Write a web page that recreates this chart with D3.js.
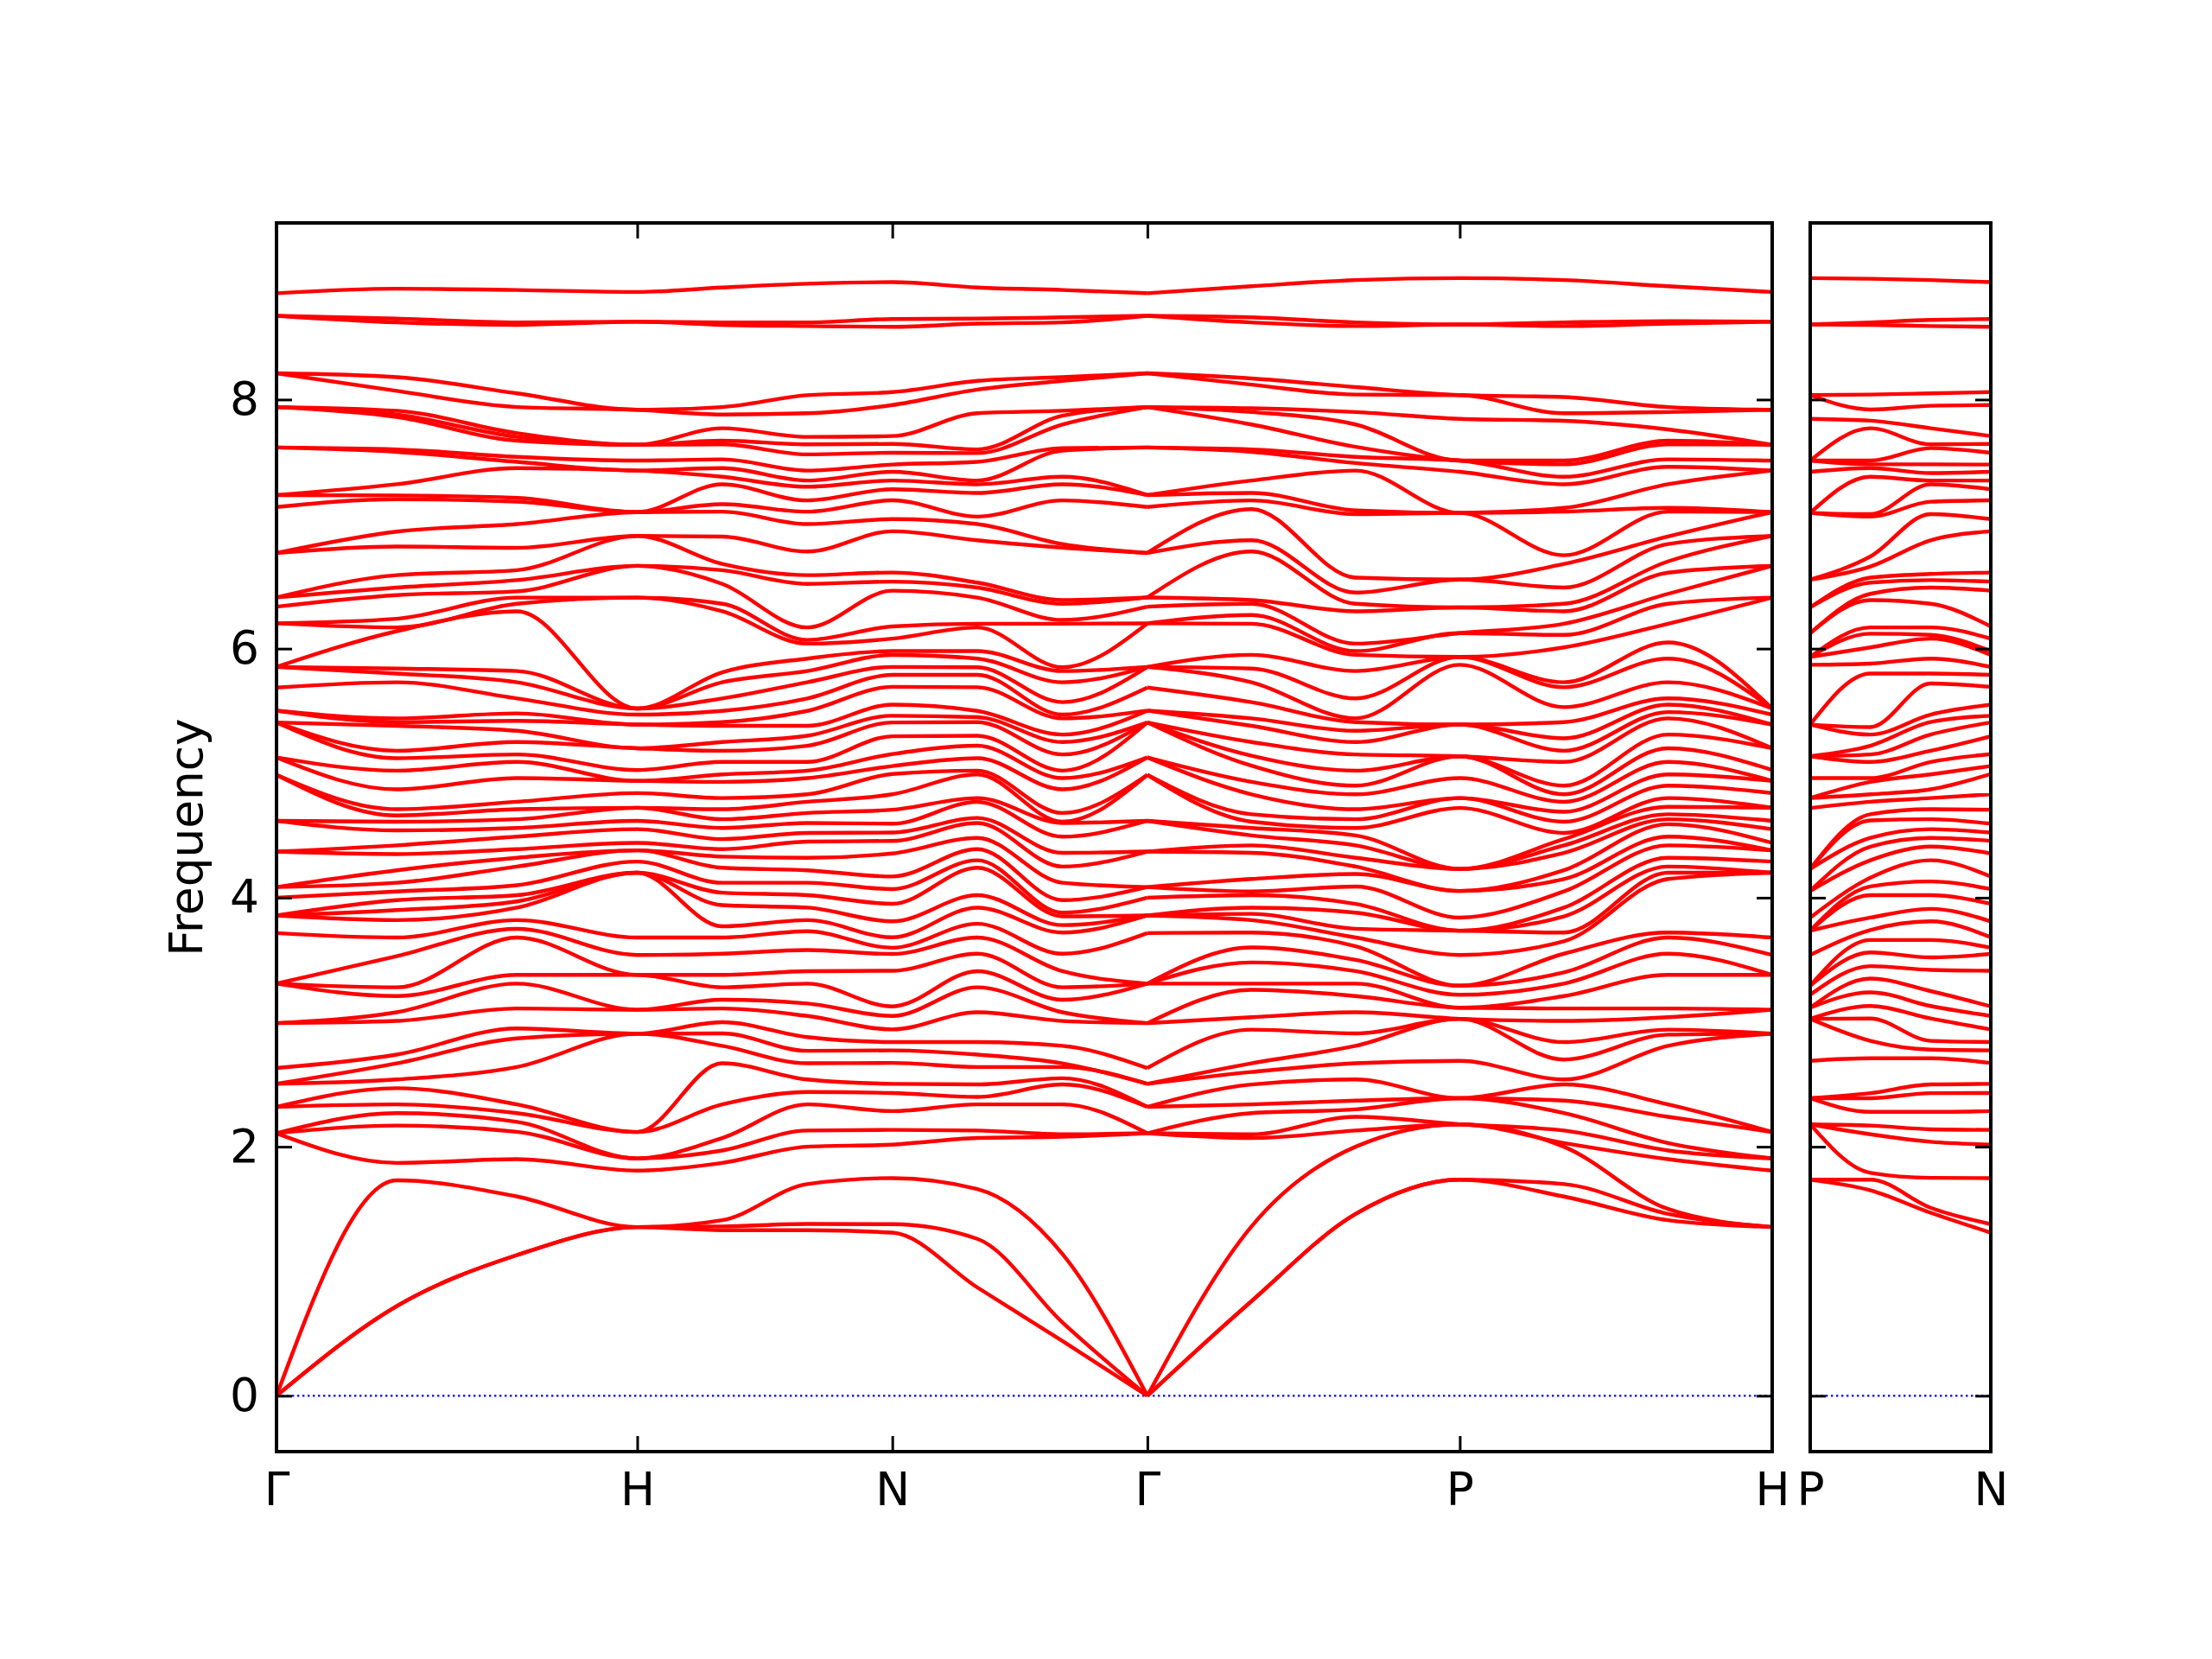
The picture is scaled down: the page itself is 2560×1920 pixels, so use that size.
<!DOCTYPE html>
<html>
<head>
<meta charset="utf-8">
<script src="https://cdn.jsdelivr.net/npm/d3@7"></script>
<style>
  html, body { margin: 0; padding: 0; background: #ffffff; }
  svg { display: block; }
</style>
</head>
<body>
<svg id="chart" width="2560" height="1920"></svg>
<script>
// ---------------- DATA ----------------
// k-path sample positions (distance along path, 2π/a units)
const kMain = [0, 0.3333, 0.6667, 1.0, 1.2357, 1.4714, 1.7071, 1.9428, 2.1785, 2.4142, 2.7029, 2.9915, 3.2802, 3.5689, 3.8576, 4.1463];
const kSub = [0, 0.1667, 0.3333, 0.5];

// tick labels
const mainTickPos = [0, 1.0, 1.7071, 2.4142, 3.2802, 4.1463];
const mainTickLab = ["Γ", "H", "N", "Γ", "P", "H"];
const subTickPos = [0, 0.5];
const subTickLab = ["P", "N"];
const yTicks = [0, 2, 4, 6, 8];

// frequencies of all bands at each k sample
const freqGamma = [8.854, 8.673, 8.673, 8.211, 8.211, 7.94, 7.94, 7.94, 7.615, 7.615, 7.233, 7.233, 7.137, 6.768, 6.768, 6.411, 6.411, 6.337, 6.203, 6.203, 5.853, 5.853, 5.853, 5.687, 5.502, 5.502, 5.407, 5.407, 5.407, 5.126, 5.126, 4.986, 4.986, 4.617, 4.617, 4.37, 4.37, 4.085, 4.085, 4.00, 3.857, 3.857, 3.857, 3.716, 3.31, 3.31, 3.31, 2.992, 2.992, 2.632, 2.505, 2.505, 2.32, 2.32, 2.108, 2.108, 2.108, 0, 0, 0];
const freqGH1 = [8.89, 8.65, 8.62, 8.18, 8.07, 7.91, 7.88, 7.86, 7.60, 7.58, 7.32, 7.23, 7.20, 6.94, 6.82, 6.59, 6.49, 6.43, 6.24, 6.17, 6.14, 5.84, 5.80, 5.73, 5.44, 5.41, 5.38, 5.18, 5.12, 5.02, 4.87, 4.71, 4.66, 4.61, 4.54, 4.42, 4.35, 4.22, 4.12, 4.05, 3.98, 3.90, 3.82, 3.68, 3.53, 3.28, 3.21, 3.08, 3.01, 2.74, 2.67, 2.54, 2.47, 2.34, 2.27, 2.17, 1.87, 1.73, 0.72, 0.72];
const freqGH2 = [8.88, 8.62, 8.60, 8.05, 7.94, 7.73, 7.70, 7.67, 7.54, 7.50, 7.45, 7.21, 7.18, 7.00, 6.81, 6.63, 6.55, 6.46, 6.41, 6.36, 6.30, 5.82, 5.73, 5.60, 5.48, 5.42, 5.34, 5.25, 5.15, 5.09, 4.96, 4.77, 4.71, 4.63, 4.56, 4.49, 4.39, 4.32, 4.25, 4.10, 4.02, 3.97, 3.92, 3.82, 3.75, 3.68, 3.38, 3.31, 3.11, 2.95, 2.87, 2.64, 2.34, 2.27, 2.20, 2.12, 1.90, 1.60, 1.13, 1.13];
const freqH = [8.864, 8.625, 8.625, 7.918, 7.918, 7.637, 7.637, 7.637, 7.51, 7.43, 7.43, 7.096, 7.096, 7.096, 6.905, 6.905, 6.665, 6.665, 6.41, 6.41, 5.519, 5.519, 5.519, 5.47, 5.39, 5.39, 5.2, 5.2, 5.025, 4.938, 4.938, 4.84, 4.722, 4.722, 4.617, 4.55, 4.44, 4.38, 4.38, 4.29, 4.2, 4.2, 4.2, 3.68, 3.54, 3.38, 3.38, 3.10, 3.10, 2.908, 2.908, 2.908, 2.118, 2.118, 1.906, 1.906, 1.808, 1.355, 1.355, 1.355];
const freqHN1 = [8.90, 8.62, 8.60, 7.94, 7.88, 7.77, 7.67, 7.64, 7.52, 7.45, 7.38, 7.32, 7.16, 7.10, 6.90, 6.68, 6.63, 6.52, 6.36, 6.30, 5.81, 5.73, 5.60, 5.50, 5.41, 5.38, 5.25, 5.18, 5.09, 4.99, 4.93, 4.80, 4.71, 4.63, 4.56, 4.47, 4.39, 4.33, 4.24, 4.12, 4.04, 3.94, 3.77, 3.68, 3.55, 3.38, 3.28, 3.18, 3.11, 3.00, 2.91, 2.81, 2.67, 2.34, 2.07, 1.97, 1.87, 1.41, 1.36, 1.33];
const freqHN2 = [8.93, 8.62, 8.59, 8.035, 7.89, 7.70, 7.64, 7.56, 7.43, 7.35, 7.30, 7.19, 7.10, 7.00, 6.78, 6.59, 6.52, 6.17, 6.07, 6.04, 5.92, 5.82, 5.73, 5.60, 5.50, 5.38, 5.30, 5.22, 5.09, 5.02, 4.96, 4.83, 4.77, 4.68, 4.60, 4.52, 4.45, 4.32, 4.22, 4.12, 4.02, 3.92, 3.82, 3.73, 3.58, 3.41, 3.31, 3.15, 3.05, 2.88, 2.77, 2.67, 2.54, 2.44, 2.34, 2.13, 2.00, 1.70, 1.38, 1.33];
const freqN = [8.943, 8.647, 8.584, 8.06, 7.956, 7.707, 7.644, 7.573, 7.478, 7.42, 7.35, 7.28, 7.191, 7.04, 6.942, 6.611, 6.538, 6.465, 6.178, 6.08, 5.98, 5.949, 5.853, 5.789, 5.693, 5.55, 5.461, 5.407, 5.296, 5.153, 5.057, 4.993, 4.83, 4.706, 4.594, 4.523, 4.456, 4.355, 4.17, 4.069, 3.951, 3.81, 3.682, 3.598, 3.548, 3.413, 3.127, 3.05, 2.942, 2.841, 2.774, 2.673, 2.505, 2.431, 2.286, 2.135, 2.017, 1.748, 1.378, 1.31];
const freqNG1 = [8.90, 8.65, 8.61, 8.15, 8.08, 7.89, 7.60, 7.57, 7.50, 7.35, 7.32, 7.25, 7.06, 7.00, 6.87, 6.53, 6.49, 6.41, 6.20, 6.17, 5.98, 5.92, 5.85, 5.79, 5.69, 5.50, 5.45, 5.41, 5.30, 5.22, 5.12, 5.02, 4.99, 4.80, 4.77, 4.64, 4.60, 4.48, 4.39, 4.30, 4.24, 4.02, 3.92, 3.79, 3.68, 3.55, 3.41, 3.28, 3.08, 2.84, 2.74, 2.64, 2.50, 2.40, 2.34, 2.13, 2.07, 1.66, 1.26, 0.87];
const freqNG2 = [8.88, 8.66, 8.62, 8.18, 8.15, 7.91, 7.87, 7.80, 7.61, 7.59, 7.38, 7.32, 7.19, 6.84, 6.81, 6.39, 6.36, 6.23, 6.20, 5.85, 5.82, 5.73, 5.57, 5.47, 5.44, 5.31, 5.25, 5.15, 5.02, 4.96, 4.87, 4.68, 4.61, 4.60, 4.49, 4.36, 4.25, 4.12, 3.98, 3.88, 3.85, 3.78, 3.72, 3.55, 3.41, 3.28, 3.18, 3.08, 3.01, 2.81, 2.67, 2.64, 2.55, 2.50, 2.34, 2.10, 2.08, 1.14, 0.59, 0.44];
const freqGP1 = [8.91, 8.66, 8.62, 8.17, 8.12, 7.93, 7.90, 7.80, 7.60, 7.58, 7.35, 7.25, 7.19, 7.12, 6.87, 6.78, 6.39, 6.36, 6.27, 6.20, 5.95, 5.84, 5.73, 5.57, 5.44, 5.38, 5.25, 5.14, 5.06, 4.93, 4.83, 4.67, 4.61, 4.56, 4.50, 4.42, 4.36, 4.15, 4.05, 4.02, 3.92, 3.87, 3.82, 3.72, 3.60, 3.48, 3.31, 3.26, 3.04, 2.94, 2.67, 2.60, 2.50, 2.34, 2.27, 2.10, 2.07, 1.36, 0.76, 0.76];
const freqGP2 = [8.96, 8.62, 8.59, 8.10, 8.04, 7.90, 7.80, 7.62, 7.54, 7.49, 7.43, 7.11, 7.08, 6.57, 6.45, 6.36, 6.30, 6.04, 5.98, 5.95, 5.82, 5.60, 5.44, 5.41, 5.34, 5.25, 5.15, 5.02, 4.90, 4.83, 4.71, 4.63, 4.56, 4.50, 4.42, 4.32, 4.25, 4.19, 4.09, 3.95, 3.88, 3.75, 3.68, 3.61, 3.50, 3.41, 3.31, 3.21, 3.08, 2.91, 2.81, 2.67, 2.54, 2.37, 2.30, 2.24, 2.13, 2.00, 1.46, 1.46];
const freqP = [8.975, 8.603, 8.603, 8.036, 8.036, 7.845, 7.51, 7.51, 7.51, 7.42, 7.09, 7.09, 7.09, 6.554, 6.554, 6.331, 6.331, 6.124, 6.124, 5.933, 5.933, 5.933, 5.87, 5.39, 5.39, 5.39, 5.136, 5.136, 5.136, 4.96, 4.80, 4.80, 4.72, 4.231, 4.231, 4.231, 4.054, 4.054, 3.84, 3.735, 3.735, 3.735, 3.54, 3.293, 3.293, 3.22, 3.116, 3.116, 3.027, 3.027, 3.027, 2.69, 2.39, 2.39, 2.39, 2.18, 2.18, 2.18, 1.735, 1.735];
const freqPH1 = [8.96, 8.62, 8.59, 8.02, 7.89, 7.83, 7.51, 7.48, 7.38, 7.32, 7.13, 7.10, 6.75, 6.68, 6.49, 6.36, 6.30, 6.20, 6.11, 6.01, 5.73, 5.69, 5.53, 5.41, 5.28, 5.18, 5.09, 4.90, 4.83, 4.77, 4.69, 4.61, 4.52, 4.47, 4.42, 4.36, 4.22, 4.15, 4.05, 3.92, 3.85, 3.72, 3.65, 3.55, 3.40, 3.31, 3.21, 3.11, 3.01, 2.84, 2.70, 2.54, 2.50, 2.37, 2.27, 2.13, 2.03, 2.00, 1.70, 1.60];
const freqPH2 = [8.91, 8.63, 8.61, 7.94, 7.90, 7.76, 7.67, 7.64, 7.52, 7.46, 7.32, 7.13, 7.10, 6.90, 6.84, 6.70, 6.61, 6.44, 6.36, 6.20, 6.05, 5.92, 5.73, 5.60, 5.55, 5.49, 5.44, 5.31, 5.20, 5.09, 4.99, 4.90, 4.80, 4.73, 4.67, 4.63, 4.59, 4.49, 4.42, 4.32, 4.25, 4.20, 4.15, 3.72, 3.68, 3.55, 3.38, 3.11, 3.04, 2.94, 2.90, 2.81, 2.34, 2.24, 2.03, 1.97, 1.90, 1.50, 1.46, 1.41];
const freqPN1 = [8.97, 8.62, 8.60, 8.04, 7.92, 7.83, 7.77, 7.51, 7.48, 7.45, 7.38, 7.08, 7.06, 6.74, 6.66, 6.57, 6.53, 6.44, 6.39, 6.17, 6.12, 6.01, 5.88, 5.80, 5.37, 5.31, 5.22, 5.15, 5.09, 4.96, 4.93, 4.83, 4.77, 4.67, 4.62, 4.48, 4.41, 4.30, 4.16, 4.09, 4.02, 3.84, 3.74, 3.66, 3.56, 3.45, 3.35, 3.24, 3.13, 3.03, 2.85, 2.71, 2.43, 2.39, 2.28, 2.17, 2.10, 1.79, 1.735, 1.65];
const freqPN2 = [8.96, 8.64, 8.59, 8.05, 7.95, 7.77, 7.64, 7.61, 7.48, 7.41, 7.35, 7.32, 7.18, 7.08, 6.87, 6.60, 6.55, 6.49, 6.36, 6.17, 6.11, 6.08, 5.92, 5.80, 5.72, 5.47, 5.41, 5.31, 5.18, 5.09, 4.99, 4.87, 4.80, 4.71, 4.63, 4.55, 4.48, 4.41, 4.30, 4.13, 4.02, 3.91, 3.81, 3.66, 3.52, 3.42, 3.25, 3.13, 3.03, 2.85, 2.78, 2.71, 2.50, 2.43, 2.28, 2.14, 2.04, 1.75, 1.51, 1.47];

// columns along each path (built from the arrays above)
const colsMain = [freqGamma, freqGH1, freqGH2, freqH, freqHN1, freqHN2, freqN, freqNG1, freqNG2, freqGamma, freqGP1, freqGP2, freqP, freqPH1, freqPH2, freqH];
// smooth pieces; broken only at Γ where the acoustic branches form a cusp
const segMain = [[0, 9], [9, 15]];
const colsSub = [freqP, freqPN1, freqPN2, freqN];
const segSub = [[0, 3]];

// ---------------- DRAW ----------------
const svg = d3.select("#chart");
svg.append("rect").attr("width", 2560).attr("height", 1920).attr("fill", "#ffffff");

const FONT = "'DejaVu Sans', 'Liberation Sans', sans-serif";
const FS = 53.3;
const yTop = 258, yBot = 1680;
const y = d3.scaleLinear().domain([-0.4485, 9.4185]).range([yBot, yTop]);
const xMain = d3.scaleLinear().domain([0, 4.1463]).range([320, 2051]);
const xSub = d3.scaleLinear().domain([0, 0.5]).range([2095, 2304]);

function drawPanel(id, x, kpos, cols, segs, tickPos, tickLab, showYLabels) {
  const [x0, x1] = x.range();
  const g = svg.append("g");
  g.append("clipPath").attr("id", id).append("rect")
    .attr("x", x0).attr("y", yTop).attr("width", x1 - x0).attr("height", yBot - yTop);
  const plot = g.append("g").attr("clip-path", `url(#${id})`);

  // zero line
  plot.append("line")
    .attr("x1", x0).attr("x2", x1).attr("y1", y(0)).attr("y2", y(0))
    .attr("stroke", "#0000ff").attr("stroke-width", 2.2)
    .attr("stroke-dasharray", "2.4,3.6");

  const sorted = cols.map(c => c.slice().sort((a, b) => b - a));
  const nb = sorted[0].length;
  const line = d3.line().x(d => x(d[0])).y(d => y(d[1])).curve(d3.curveMonotoneX);
  const bandG = plot.append("g").attr("fill", "none").attr("stroke", "#ff0000")
    .attr("stroke-width", 4.4).attr("stroke-linejoin", "round").attr("stroke-linecap", "butt");
  segs.forEach(([a, b]) => {
    for (let i = 0; i < nb; i++) {
      const pts = [];
      for (let j = a; j <= b; j++) pts.push([kpos[j], sorted[j][i]]);
      bandG.append("path").attr("d", line(pts));
    }
  });

  // axes (inward ticks on all four sides)
  const styleAxis = sel => {
    sel.select(".domain").remove();
    sel.selectAll(".tick line").attr("stroke", "#000").attr("stroke-width", 3);
    sel.selectAll(".tick text").attr("fill", "#000").attr("font-family", FONT).attr("font-size", FS);
    sel.attr("font-family", FONT).attr("font-size", FS);
  };
  g.append("g").attr("transform", `translate(${x0},0)`)
    .call(d3.axisLeft(y).tickValues(yTicks).tickSize(-18).tickPadding(20)
      .tickFormat(showYLabels ? d3.format("d") : () => ""))
    .call(styleAxis);
  g.append("g").attr("transform", `translate(${x1},0)`)
    .call(d3.axisRight(y).tickValues(yTicks).tickSize(-18).tickFormat(() => ""))
    .call(styleAxis);
  g.append("g").attr("transform", `translate(0,${yBot})`)
    .call(d3.axisBottom(x).tickValues(tickPos).tickSize(-18).tickPadding(24)
      .tickFormat((d, i) => tickLab[i]))
    .call(styleAxis);
  g.append("g").attr("transform", `translate(0,${yTop})`)
    .call(d3.axisTop(x).tickValues(tickPos).tickSize(-18).tickFormat(() => ""))
    .call(styleAxis);

  // frame
  g.append("rect").attr("x", x0).attr("y", yTop).attr("width", x1 - x0).attr("height", yBot - yTop)
    .attr("fill", "none").attr("stroke", "#000").attr("stroke-width", 4);
}

drawPanel("clipMain", xMain, kMain, colsMain, segMain, mainTickPos, mainTickLab, true);
drawPanel("clipSub", xSub, kSub, colsSub, segSub, subTickPos, subTickLab, false);

svg.append("text")
  .attr("transform", `translate(234,${(yTop + yBot) / 2}) rotate(-90)`)
  .attr("text-anchor", "middle")
  .attr("font-family", FONT).attr("font-size", FS).attr("fill", "#000")
  .text("Frequency");
</script>
</body>
</html>
